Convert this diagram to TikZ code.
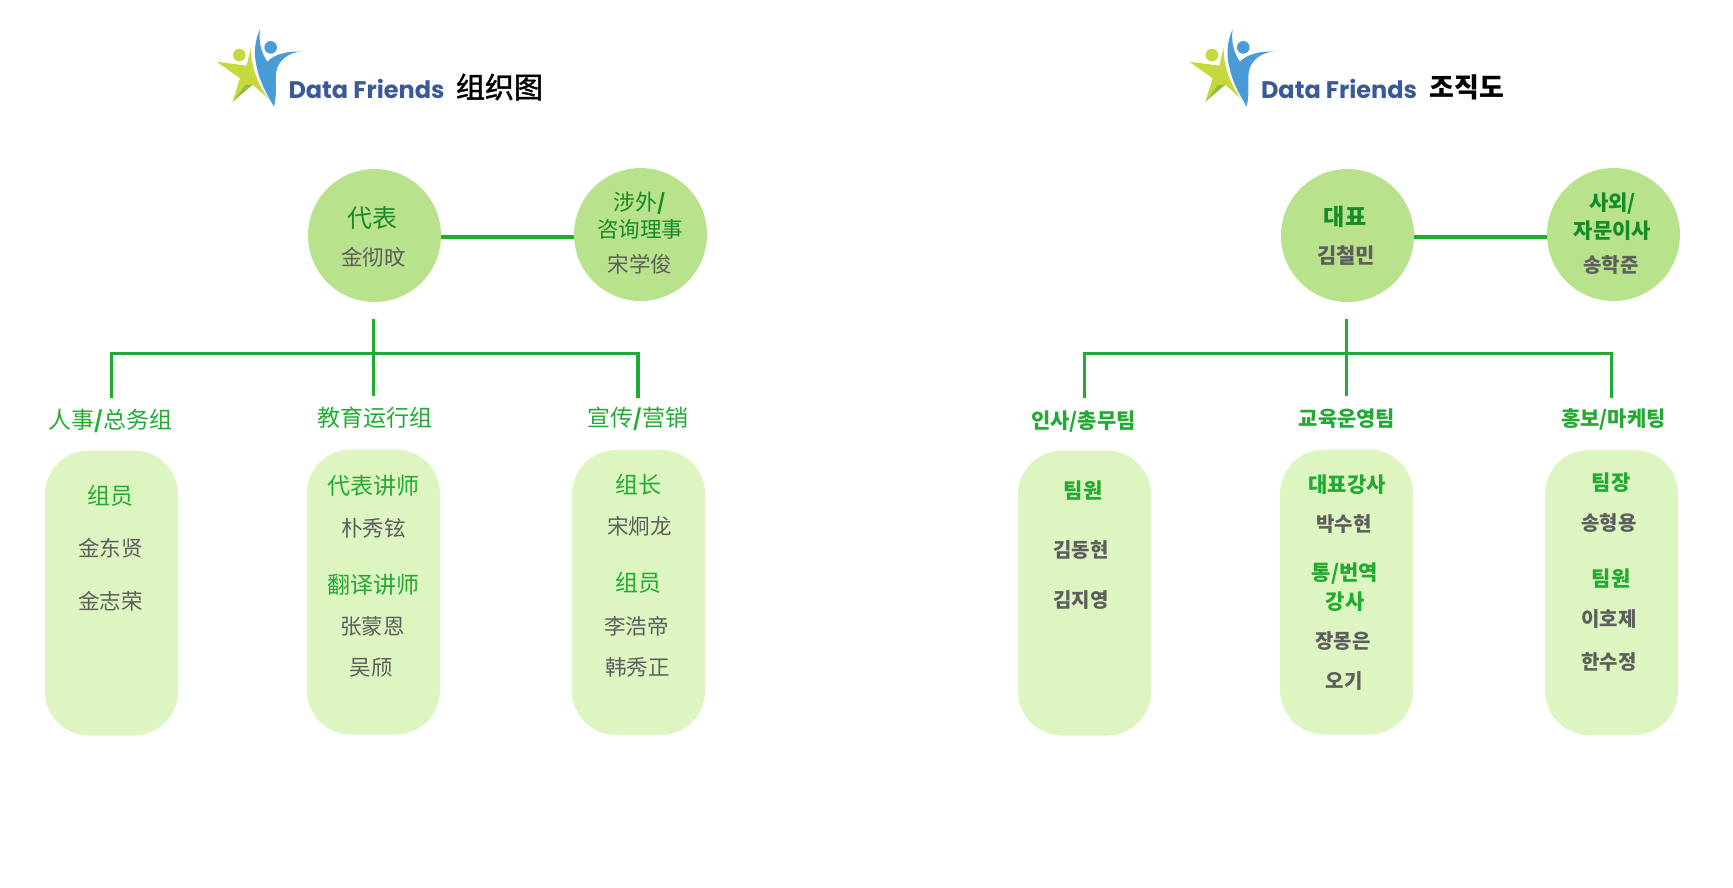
\documentclass[tikz,border=0pt]{standalone}
\usepackage{fontspec}
\usepackage{xcolor}
\usepackage{tikz}
\setmainfont{Noto Sans}
\newfontfamily\zhfont{Noto Sans CJK SC}
\newfontfamily\zhtitlefont{Noto Sans CJK SC}[FakeBold=1.5]
\newfontfamily\krfont{Noto Sans CJK KR}
\newfontfamily\logofont{Poppins}
\definecolor{circlefill}{HTML}{B9E28C}
\definecolor{boxfill}{HTML}{DDF5C0}
\definecolor{linegreen}{HTML}{22AA33}
\definecolor{darkgreen}{HTML}{178A2A}
\definecolor{namegrey}{HTML}{5E5E5E}
\definecolor{logoblue}{HTML}{4A9CD8}
\definecolor{logolime}{HTML}{C5D93F}
\definecolor{logoleaf}{HTML}{8DBE3F}
\definecolor{logotext}{HTML}{3B5998}
\tikzset{
  member/.style={circle,fill=circlefill,minimum size=133,inner sep=0pt},
  panel/.style={rectangle,fill=boxfill,rounded corners=44,minimum width=133,minimum height=285,inner sep=0pt},
  link/.style={line width=4,draw=linegreen},
  tree/.style={line width=3.5,draw=linegreen},
  zhhead/.style={inner sep=0pt,text=linegreen,font=\zhfont\fontsize{23}{23}\selectfont},
  zhrole/.style={inner sep=0pt,text=darkgreen,font=\zhfont\fontsize{22}{22}\selectfont},
  zhname/.style={inner sep=0pt,text=namegrey,font=\zhfont\fontsize{21.5}{21.5}\selectfont},
  krhead/.style={inner sep=0pt,text=linegreen,font=\krfont\bfseries\fontsize{21}{21}\selectfont},
  krrole/.style={inner sep=0pt,text=darkgreen,font=\krfont\bfseries\fontsize{21}{21}\selectfont},
  krname/.style={inner sep=0pt,text=namegrey,font=\krfont\bfseries\fontsize{20}{20}\selectfont},
  brand/.style={inner sep=0pt,text=logotext,font=\logofont\bfseries\fontsize{24}{24}\selectfont},
}
\newcommand{\dfmark}[1]{
  \begin{scope}[shift={(190+#1,10)},scale=1/3]
    \fill[logolime] (80,155) -- (170,167) -- (183,112) .. controls (182,170) and (205,225) .. (235,266) -- (188,224) -- (128,275) -- (150,205) -- cycle;
    \fill[logoleaf] (128,275) -- (165,226) -- (188,224) -- cycle;
    \fill[logolime] (148,135) circle (19);
    \fill[logoblue] (210,58) .. controls (195,90) and (190,130) .. (200,170) .. controls (210,220) and (235,260) .. (252,290) .. controls (262,250) and (255,220) .. (258,190) .. controls (262,150) and (300,125) .. (335,125) .. controls (290,122) and (250,135) .. (232,155) .. controls (215,130) and (205,100) .. (210,58) -- cycle;
    \fill[logoblue] (242,112) circle (19);
  \end{scope}
}
\begin{document}
\begin{tikzpicture}[x=1pt,y=-1pt]
\useasboundingbox (0,0) rectangle (1733,887);

% logos and titles
\dfmark{0}
\dfmark{972.6}
\node[brand] (lbrand) at (366.5,89) {Data Friends};
\node[brand] (rbrand) at (1339,89) {Data Friends};
\node[inner sep=0pt,font=\zhtitlefont\fontsize{29}{29}\selectfont] (ltitle) at (499.5,87) {组织图};
\node[inner sep=0pt,font=\krfont\bfseries\fontsize{27}{27}\selectfont] (rtitle) at (1467,87) {조직도};

% left chart
\node[member] (lrep) at (374.5,235.5) {};
\node[member] (ladv) at (640.5,234.5) {};
\coordinate (llink) at (507,237.3);
\draw[link] (lrep.east |- llink) -- (ladv.west |- llink);
\node[zhrole,font=\zhfont\fontsize{25}{25}\selectfont] (lreprole) at (372.5,217.7) {代表};
\node[zhname] (lrepname) at (373.6,257.5) {金彻旼};
\node[zhrole] (ladvrole) at (640,203) {涉外{\bfseries/}};
\node[zhrole,font=\zhfont\fontsize{21.5}{21.5}\selectfont] (ladvrolex) at (640,229) {咨询理事};
\node[zhname] (ladvname) at (640,264) {宋学俊};

\coordinate (ltop) at (373.3,319);
\coordinate (lhub) at (373.3,353.7);
\coordinate (lgrpa) at (111.3,398);
\coordinate (lgrpb) at (373.3,396);
\coordinate (lgrpc) at (638,398);
\draw[tree] (ltop) -- (lgrpb);
\draw[tree] (lgrpa) |- (lhub) -| (lgrpc);

\node[zhhead] (lheada) at (110.5,420.5) {人事{\bfseries/}总务组};
\node[zhhead] (lheadb) at (374.7,418) {教育运行组};
\node[zhhead] (lheadc) at (638,418.5) {宣传{\bfseries/}营销};

\node[panel] (lboxa) at (111.5,593) {};
\node[panel] (lboxb) at (373.5,592) {};
\node[panel] (lboxc) at (638.5,592.5) {};

\node[zhhead] (la1) at (110.4,496) {组员};
\node[zhname] (la2) at (110.5,548) {金东贤};
\node[zhname] (la3) at (110.5,601) {金志荣};

\node[zhhead] (lb1) at (373.6,486) {代表讲师};
\node[zhname] (lb2) at (373.6,528) {朴秀铉};
\node[zhhead] (lb3) at (373.6,585) {翻译讲师};
\node[zhname] (lb4) at (372.5,626) {张蒙恩};
\node[zhname] (lb5) at (371.3,667.5) {吴颀};

\node[zhhead] (lc1) at (638.8,485) {组长};
\node[zhname] (lc2) at (639.3,526) {宋炯龙};
\node[zhhead] (lc3) at (638.8,582.5) {组员};
\node[zhname] (lc4) at (636.6,626) {李浩帝};
\node[zhname] (lc5) at (637.7,667.5) {韩秀正};

% right chart
\node[member] (rrep) at (1347.5,235.5) {};
\node[member] (radv) at (1613.5,234.5) {};
\coordinate (rlink) at (1480,237.3);
\draw[link] (rrep.east |- rlink) -- (radv.west |- rlink);
\node[krrole,font=\krfont\bfseries\fontsize{23}{23}\selectfont] (rreprole) at (1345,216.6) {대표};
\node[krname,font=\krfont\bfseries\fontsize{21}{21}\selectfont] (rrepname) at (1346,255.5) {김철민};
\node[krrole] (radvrole) at (1612.5,204) {사외/};
\node[krrole] (radvrolex) at (1612.5,230.5) {자문이사};
\node[krname] (radvname) at (1611,265) {송학준};

\coordinate (rtop) at (1346.3,319);
\coordinate (rhub) at (1346.3,353.7);
\coordinate (rgrpa) at (1084.5,398);
\coordinate (rgrpb) at (1346.3,396);
\coordinate (rgrpc) at (1611.3,398);
\draw[tree] (rtop) -- (rgrpb);
\draw[tree] (rgrpa) |- (rhub) -| (rgrpc);

\node[krhead] (rheada) at (1083.5,421.5) {인사/총무팀};
\node[krhead] (rheadb) at (1347,419) {교육운영팀};
\node[krhead] (rheadc) at (1613.6,419.5) {홍보/마케팅};

\node[panel] (rboxa) at (1084.5,593) {};
\node[panel] (rboxb) at (1346.5,592) {};
\node[panel] (rboxc) at (1611.5,592.5) {};

\node[krhead] (ra1) at (1083,490.7) {팀원};
\node[krname] (ra2) at (1081,549.5) {김동현};
\node[krname] (ra3) at (1081,600.5) {김지영};

\node[krhead] (rb1) at (1347,484.5) {대표강사};
\node[krname] (rb2) at (1344,523.5) {박수현};
\node[krhead] (rb3) at (1345,574) {통/번역};
\node[krhead] (rb4) at (1345,602) {강사};
\node[krname] (rb5) at (1343,641) {장몽은};
\node[krname] (rb6) at (1344,681) {오기};

\node[krhead] (rc1) at (1611,483) {팀장};
\node[krname] (rc2) at (1609,523) {송형용};
\node[krhead] (rc3) at (1611,578.5) {팀원};
\node[krname] (rc4) at (1609,619) {이호제};
\node[krname] (rc5) at (1609,662.5) {한수정};
\end{tikzpicture}
\end{document}
